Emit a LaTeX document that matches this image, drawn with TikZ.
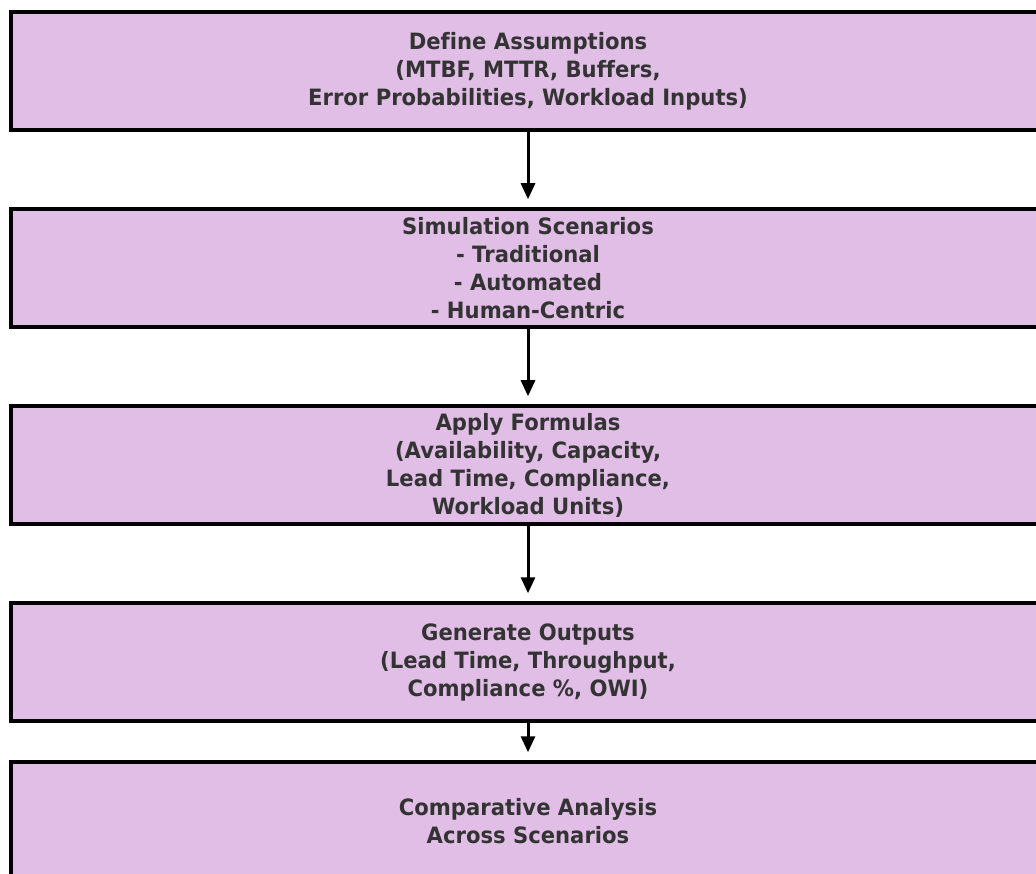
\documentclass[tikz,border=0pt]{standalone}
\usepackage{fontspec}
\setmainfont[FakeStretch=0.94,Ligatures=NoCommon]{DejaVu Sans}
\usetikzlibrary{arrows.meta}
\definecolor{boxfill}{HTML}{E0BEE6}
\definecolor{txt}{HTML}{333333}
\begin{document}
\begin{tikzpicture}[x=1pt,y=-1pt,
  stepbox/.style={draw=black,line width=3.5pt,fill=boxfill,minimum width=1034pt,minimum height=118pt,
    align=center,text=txt,font=\fontsize{22.5}{28}\selectfont\bfseries,inner sep=0pt},
  flow/.style={line width=3pt,-{Triangle[width=14pt,length=16pt]},shorten >=8pt}]
\useasboundingbox (0,0) rectangle (1036,874);
\node[stepbox] (a) at (528,71) {Define Assumptions\\(MTBF, MTTR, Buffers,\\Error Probabilities, Workload Inputs)};
\node[stepbox] (b) at (528,268) {Simulation Scenarios\\- Traditional\\- Automated\\- Human-Centric};
\node[stepbox] (c) at (528,465) {Apply Formulas\\(Availability, Capacity,\\Lead Time, Compliance,\\Workload Units)};
\node[stepbox] (d) at (528,662) {Generate Outputs\\(Lead Time, Throughput,\\Compliance \%, OWI)};
\node[stepbox] (e) at (528,821) {Comparative Analysis\\Across Scenarios};
\draw[flow] (a.south) -- (b.north);
\draw[flow] (b.south) -- (c.north);
\draw[flow] (c.south) -- (d.north);
\draw[flow] (d.south) -- (e.north);
\end{tikzpicture}
\end{document}
